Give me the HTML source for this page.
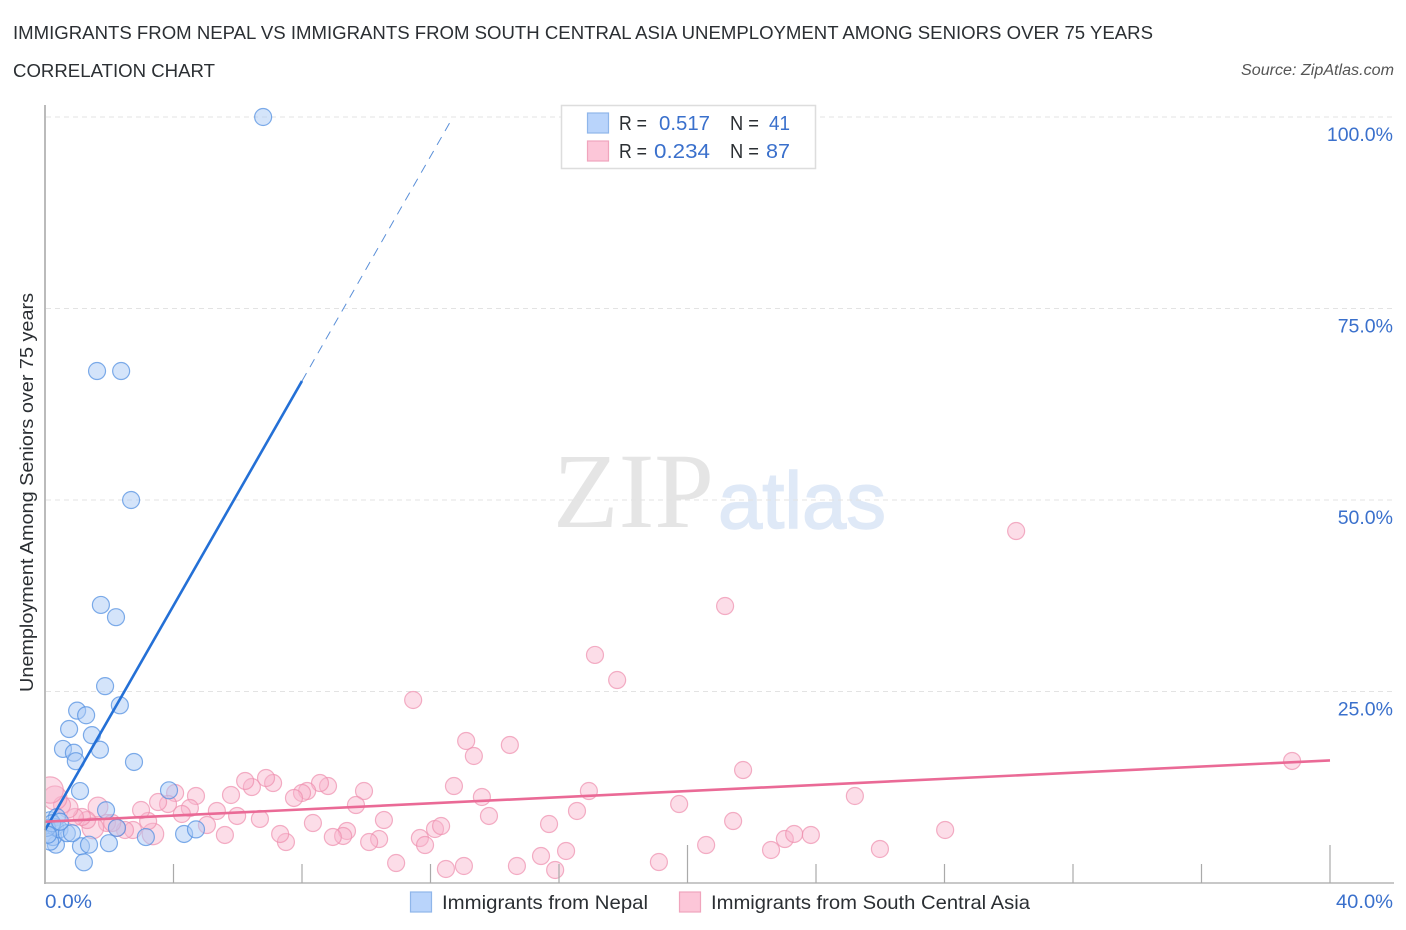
<!DOCTYPE html>
<html lang="en">
<head>
<meta charset="utf-8">
<title>Immigrants from Nepal vs Immigrants from South Central Asia Correlation Chart</title>
<style>
html,body{margin:0;padding:0;background:#fff;width:1406px;height:930px;overflow:hidden}
svg{display:block;font-family:"Liberation Sans",sans-serif}
</style>
</head>
<body>
<svg id="chart" xmlns="http://www.w3.org/2000/svg" width="1406" height="930" viewBox="0 0 1406 930">
<defs><clipPath id="plot-clip"><rect x="46" y="100" width="1350" height="783"/></clipPath></defs>
<text x="13" y="39" font-size="18.5" fill="#2b2f33" textLength="1140" lengthAdjust="spacingAndGlyphs">IMMIGRANTS FROM NEPAL VS IMMIGRANTS FROM SOUTH CENTRAL ASIA UNEMPLOYMENT AMONG SENIORS OVER 75 YEARS</text>
<text x="13" y="77" font-size="18.5" fill="#2b2f33" textLength="202" lengthAdjust="spacingAndGlyphs">CORRELATION CHART</text>
<text x="1241" y="75" font-size="15.5" font-style="italic" fill="#555" textLength="153" lengthAdjust="spacingAndGlyphs">Source: ZipAtlas.com</text>
<text x="553" y="527" font-family="'Liberation Serif',serif" font-size="107" fill="#e5e5e5" textLength="161" lengthAdjust="spacingAndGlyphs">ZIP</text>
<text x="718" y="528" font-size="80" fill="#dfe9f7" stroke="#dfe9f7" stroke-width="1.5" textLength="168" lengthAdjust="spacingAndGlyphs">atlas</text>
<g id="grid"></g>
<g id="pink-points" clip-path="url(#plot-clip)"></g>
<g id="blue-points" clip-path="url(#plot-clip)"></g>
<g id="trends"></g>
<g id="axes"></g>
<text transform="translate(33 692) rotate(-90)" font-size="18.5" fill="#2b2f33" textLength="399" lengthAdjust="spacingAndGlyphs">Unemployment Among Seniors over 75 years</text>
<g>
<rect x="561.5" y="105.5" width="254" height="63" fill="#fff" stroke="#ddd" stroke-width="1.5"/>
<rect x="587.5" y="113" width="21" height="20" fill="#b9d4fb" stroke="#8fb6ea" stroke-width="1.2"/>
<rect x="587.5" y="141" width="21" height="20" fill="#fcc6d8" stroke="#f0a5bd" stroke-width="1.2"/>
<g font-size="20">
<text x="619" y="130" fill="#2b2f33" textLength="28" lengthAdjust="spacingAndGlyphs">R =</text>
<text x="659" y="130" fill="#3a70cc" textLength="51" lengthAdjust="spacingAndGlyphs">0.517</text>
<text x="730" y="130" fill="#2b2f33" textLength="29" lengthAdjust="spacingAndGlyphs">N =</text>
<text x="769" y="130" fill="#3a70cc" textLength="21" lengthAdjust="spacingAndGlyphs">41</text>
<text x="619" y="158" fill="#2b2f33" textLength="28" lengthAdjust="spacingAndGlyphs">R =</text>
<text x="654" y="158" fill="#3a70cc" textLength="56" lengthAdjust="spacingAndGlyphs">0.234</text>
<text x="730" y="158" fill="#2b2f33" textLength="29" lengthAdjust="spacingAndGlyphs">N =</text>
<text x="766" y="158" fill="#3a70cc" textLength="24" lengthAdjust="spacingAndGlyphs">87</text>
</g>
</g>
<g>
<rect x="410.5" y="892" width="21" height="20" fill="#b9d4fb" stroke="#8fb6ea" stroke-width="1.2"/>
<text x="442" y="909" font-size="19.5" fill="#2b2f33" textLength="206" lengthAdjust="spacingAndGlyphs">Immigrants from Nepal</text>
<rect x="679.5" y="892" width="21" height="20" fill="#fcc6d8" stroke="#f0a5bd" stroke-width="1.2"/>
<text x="711" y="909" font-size="19.5" fill="#2b2f33" textLength="319" lengthAdjust="spacingAndGlyphs">Immigrants from South Central Asia</text>
</g>
</svg>
<script>
const nepalX = [6.79,1.62,2.37,2.68,1.74,2.21,1.87,2.33,1.00,1.28,0.75,1.46,0.56,0.90,1.71,0.96,2.77,1.09,3.86,1.90,2.24,3.14,1.99,1.12,1.37,1.21,4.33,4.70,0.34,0.25,0.16,0.16,0.37,0.31,0.45,0.68,0.84,0.06,0.22,0.47,0.09];
const nepalY = [100,66.84,66.84,50.0,36.3,34.7,25.7,23.2,22.5,21.9,20.1,19.3,17.5,17.0,17.4,15.9,15.8,12.0,12.1,9.5,7.2,6.0,5.2,4.8,5.0,2.7,6.4,7.0,5.0,6.0,5.4,8.2,8.6,7.3,7.0,6.5,6.5,7.2,7.8,8.0,6.3];
const asiaX = [30.23,21.17,17.12,17.81,11.46,13.11,13.35,14.47,38.82,21.73,25.21,19.74,12.73,13.6,13.82,16.93,16.56,15.69,28.02,21.42,20.58,22.6,23.03,23.32,23.84,25.99,19.11,16.22,15.44,15.88,14.69,13.04,12.48,10.93,11.67,11.83,12.14,12.33,10.55,10.4,10.09,9.93,9.68,9.4,9.28,8.96,8.81,8.56,8.34,8.16,8.0,7.75,7.5,7.32,7.1,6.88,6.69,6.44,6.23,5.98,5.79,5.6,5.35,5.04,4.7,4.51,4.26,4.05,3.83,3.52,3.36,3.21,2.99,2.74,2.49,2.24,1.93,2.09,1.65,1.49,1.31,1.15,0.93,0.72,0.53,0.31,0.16];
const asiaY = [45.95,36.16,29.77,26.5,23.89,18.54,16.58,18.02,15.93,14.75,11.36,10.31,12.66,11.23,8.75,12.01,9.4,7.7,6.92,8.09,4.96,4.31,5.74,6.4,6.27,4.44,2.74,4.18,3.52,1.7,2.22,2.22,1.83,2.61,5.87,4.96,7.05,7.44,8.22,5.74,5.35,12.01,10.18,6.79,6.14,6.01,12.66,13.05,7.83,12.01,11.75,11.1,5.35,6.4,13.05,13.71,8.36,12.53,13.32,8.75,11.49,6.27,9.4,7.57,11.36,9.79,9.01,11.75,10.31,10.57,6.4,8.09,9.53,6.92,6.92,7.18,7.83,7.83,9.92,7.18,8.22,8.62,8.62,9.79,10.18,11.1,12.14];
const asiaPopulation = [1,1,1,1,1,1,1,1,1,1,1,1,1,1,1,1,1,1,1,1,1,1,1,1,1,1,1,1,1,1,1,1,1,1,1,1,1,1,1,1,1,1,1,1,1,1,1,1,1,1,1,1,1,1,1,1,1,1,1,1,1,1,1,1,1,1,1,1,1,1,1.6,1,1,1,1,1,1,1,1.35,1.6,1,1,1,1.35,1,2,2.4];
const nepalTrendIntercept = [6.9];
const nepalTrendSlope = [7.33];
const nepalTrendXDomain = [0, 8, 12.7];
const asiaTrend = [8.0, 16.0];
const asiaTrendX = [0, 40];
const yTickValues = [25, 50, 75, 100];
const yTickLabels = ["25.0%", "50.0%", "75.0%", "100.0%"];
const xTickValues = [4, 8, 12, 16, 20, 24, 28, 32, 36, 40];
const xTickMajor = [20, 40];
const xEndLabels = ["0.0%", "40.0%"];

const NS = "http://www.w3.org/2000/svg";
function xs(v) { return 45 + v * 32.125; }
function ys(v) { return 883 - v * 7.66; }
function mk(parent, tag, attrs, txt) {
  const el = document.createElementNS(NS, tag);
  for (const k in attrs) el.setAttribute(k, attrs[k]);
  if (txt !== undefined) el.textContent = txt;
  document.getElementById(parent).appendChild(el);
  return el;
}

yTickValues.forEach(function (v, i) {
  const line = mk("grid", "line", {x1: 46, x2: 1393, y1: ys(v), y2: ys(v), stroke: "#e3e3e3", "stroke-width": 1, "stroke-dasharray": "5 4"});
  
  
  const label = mk("axes", "text", {x: 1393, y: ys(v) + 24, "font-size": 19.5, fill: "#3a70cc", "text-anchor": "end"}, yTickLabels[i]);
  
  
});

asiaX.forEach(function (v, i) {
  const c = mk("pink-points", "circle", {cx: xs(v), cy: ys(asiaY[i]), r: 8.5 * Math.sqrt(asiaPopulation[i]), fill: "#f8b4cb", "fill-opacity": 0.45, stroke: "#ee8fae", "stroke-opacity": 0.7, "stroke-width": 1.2});
  
  
});
nepalX.forEach(function (v, i) {
  const c = mk("blue-points", "circle", {cx: xs(v), cy: ys(nepalY[i]), r: 8.5, fill: "#a9caf6", "fill-opacity": 0.5, stroke: "#4f8ee0", "stroke-opacity": 0.72, "stroke-width": 1.2});
  
  
});

function nepalLine(x) { return nepalTrendIntercept[0] + x * nepalTrendSlope[0]; }
const nepalSolid = mk("trends", "line", {x1: xs(nepalTrendXDomain[0]), y1: ys(nepalLine(nepalTrendXDomain[0])), x2: xs(nepalTrendXDomain[1]), y2: ys(nepalLine(nepalTrendXDomain[1])), stroke: "#2470d6", "stroke-width": 2.6});


const nepalDash = mk("trends", "line", {x1: xs(nepalTrendXDomain[1]), y1: ys(nepalLine(nepalTrendXDomain[1])), x2: xs(nepalTrendXDomain[2]), y2: ys(nepalLine(nepalTrendXDomain[2])), stroke: "#5a8fd8", "stroke-width": 1, "stroke-dasharray": "9 7"});


const asiaLine = mk("trends", "line", {x1: xs(asiaTrendX[0]), y1: ys(asiaTrend[0]), x2: xs(asiaTrendX[1]), y2: ys(asiaTrend[1]), stroke: "#ea6a96", "stroke-width": 2.6});



const yAxis = mk("axes", "line", {x1: 45, x2: 45, y1: 105, y2: 884, stroke: "#aaa", "stroke-width": 1.6});


const xAxis = mk("axes", "line", {x1: 44, x2: 1394, y1: 883, y2: 883, stroke: "#b5b5b5", "stroke-width": 1.6});


xTickValues.forEach(function (v) {
  const major = xTickMajor.indexOf(v) >= 0;
  const t = mk("axes", "line", {x1: xs(v), x2: xs(v), y1: major ? 845 : 864, y2: 883, stroke: "#aaa", "stroke-width": 1.2});
  
  
});
const x0 = mk("axes", "text", {x: 45, y: 908, "font-size": 19.5, fill: "#3a70cc", textLength: 47, lengthAdjust: "spacingAndGlyphs"}, xEndLabels[0]);


const x1 = mk("axes", "text", {x: 1336, y: 908, "font-size": 19.5, fill: "#3a70cc", textLength: 57, lengthAdjust: "spacingAndGlyphs"}, xEndLabels[1]);


</script>
</body>
</html>
